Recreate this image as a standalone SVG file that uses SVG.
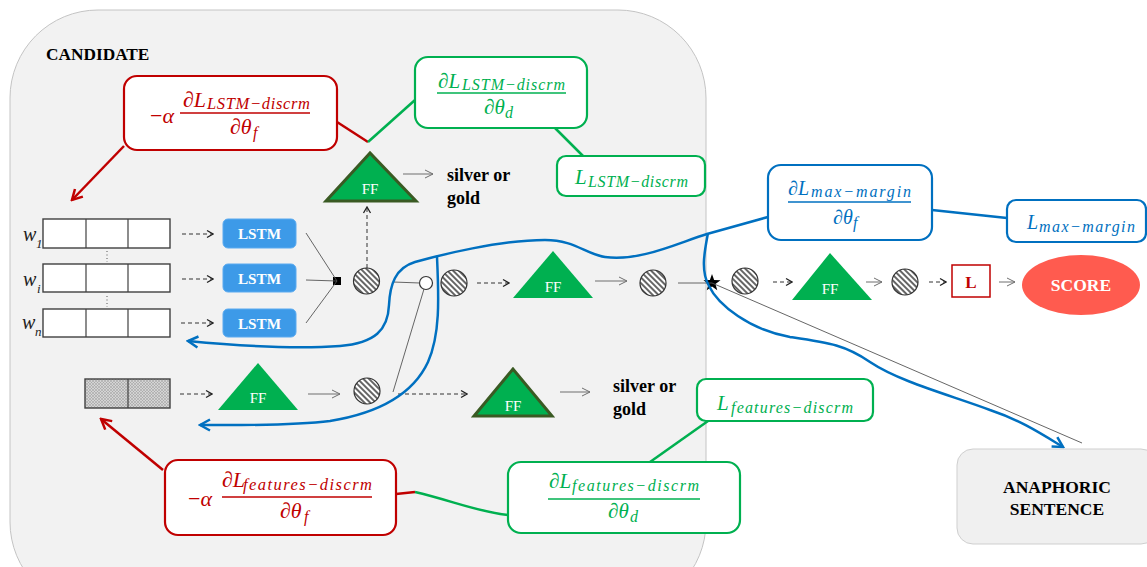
<svg xmlns="http://www.w3.org/2000/svg" width="1147" height="567" viewBox="0 0 1147 567" font-family="'Liberation Serif', 'DejaVu Serif', serif">
  <defs>
    <style>
      text{font-family:'Liberation Serif','DejaVu Serif',serif}
      .math{font-style:italic}
      .up{font-style:normal}
      .red{fill:#c00000}
      .grn{fill:#00b050}
      .blu{fill:#0070c0}
      .bold{font-weight:bold;fill:#000}
      .ff{fill:#fff;font-size:15px;text-anchor:middle}
      .wlab{font-style:italic;fill:#222}
      .box-r{fill:#fff;stroke:#c00000;stroke-width:2.2}
      .box-g{fill:#fff;stroke:#00b050;stroke-width:2.2}
      .box-b{fill:#fff;stroke:#0070c0;stroke-width:2.2}
      .vec{fill:#fff;stroke:#404040;stroke-width:1.4}
      .lstm{fill:#3d9ae8;stroke:#5aaaf0;stroke-width:1}
      .hc{fill:url(#hatch);stroke:#333;stroke-width:1.2}
      .tri{fill:#00b050}
      .trib{fill:#00b050;stroke:#3a5a23;stroke-width:3;stroke-linejoin:miter}
      .solid{fill:none;stroke:#6f6f6f;stroke-width:1;marker-end:url(#ah)}
      .dash{fill:none;stroke:#333;stroke-width:1;stroke-dasharray:4 3;marker-end:url(#dh)}
      .thin{fill:none;stroke:#555;stroke-width:0.9}
      .bl{fill:none;stroke:#0070c0;stroke-width:2.5}
      .rl{fill:none;stroke:#c00000;stroke-width:2.5}
      .gl{fill:none;stroke:#00b050;stroke-width:2.5}
    </style>
    <pattern id="hatch" width="4" height="4" patternUnits="userSpaceOnUse" patternTransform="rotate(-45)">
      <rect width="4" height="4" fill="#fff"/>
      <line x1="1" y1="0" x2="1" y2="4" stroke="#333" stroke-width="1.5"/>
    </pattern>
    <pattern id="xhatch" width="3" height="3" patternUnits="userSpaceOnUse">
      <rect width="3" height="3" fill="#d4d4d4"/>
      <path d="M0,0 L3,3 M3,0 L0,3" stroke="#9a9a9a" stroke-width="0.5"/>
    </pattern>
    <marker id="ah" viewBox="0 0 10 10" refX="9" refY="5" markerWidth="10" markerHeight="10" markerUnits="userSpaceOnUse" orient="auto">
      <path d="M1,1 L9,5 L1,9" fill="none" stroke="#6f6f6f" stroke-width="1"/>
    </marker>
    <marker id="dh" viewBox="0 0 8 10" refX="7" refY="5" markerWidth="8" markerHeight="10" markerUnits="userSpaceOnUse" orient="auto">
      <path d="M1,1.5 L7,5 L1,8.5" fill="none" stroke="#222" stroke-width="1.3"/>
    </marker>
    <marker id="bh" viewBox="0 0 14 14" refX="12" refY="7" markerWidth="14" markerHeight="14" markerUnits="userSpaceOnUse" orient="auto">
      <path d="M2,1.5 L12,7 L2,12.5" fill="none" stroke="#0070c0" stroke-width="2.5"/>
    </marker>
    <marker id="rh" viewBox="0 0 14 14" refX="12" refY="7" markerWidth="14" markerHeight="14" markerUnits="userSpaceOnUse" orient="auto">
      <path d="M2,1.5 L12,7 L2,12.5" fill="none" stroke="#c00000" stroke-width="2.5"/>
    </marker>
  </defs>

  <rect width="1147" height="567" fill="#fff"/>

  <!-- candidate frame -->
  <g id="candidate">
    <rect x="10" y="10" width="696" height="600" rx="88" fill="#f2f2f2" stroke="#c4c4c4" stroke-width="1"/>
    <text class="bold" x="46" y="60" font-size="17.3">CANDIDATE</text>
  </g>

  <!-- word vectors -->
  <g id="word-vectors">
    <rect class="vec" x="43" y="219" width="127" height="29"/>
    <line x1="86" y1="219" x2="86" y2="248" stroke="#404040" stroke-width="1.2"/>
    <line x1="128" y1="219" x2="128" y2="248" stroke="#404040" stroke-width="1.2"/>
    <rect class="vec" x="43" y="264" width="127" height="28"/>
    <line x1="86" y1="264" x2="86" y2="292" stroke="#404040" stroke-width="1.2"/>
    <line x1="128" y1="264" x2="128" y2="292" stroke="#404040" stroke-width="1.2"/>
    <rect class="vec" x="43" y="309" width="127" height="28"/>
    <line x1="86" y1="309" x2="86" y2="337" stroke="#404040" stroke-width="1.2"/>
    <line x1="128" y1="309" x2="128" y2="337" stroke="#404040" stroke-width="1.2"/>
    <line x1="107" y1="251" x2="107" y2="262" stroke="#555" stroke-width="1" stroke-dasharray="1 2.5"/>
    <line x1="107" y1="296" x2="107" y2="307" stroke="#555" stroke-width="1" stroke-dasharray="1 2.5"/>
    <text class="wlab" x="23" y="241" font-size="20">w</text>
    <text class="wlab up" x="36" y="248" font-size="13">1</text>
    <text class="wlab" x="23" y="286" font-size="20">w</text>
    <text class="wlab" x="37" y="293" font-size="13">i</text>
    <text class="wlab" x="22" y="329" font-size="20">w</text>
    <text class="wlab" x="35" y="336" font-size="13">n</text>
  </g>

  <!-- LSTM cells -->
  <g id="lstm">
    <rect class="lstm" x="223" y="219" width="73" height="29" rx="5"/>
    <rect class="lstm" x="223" y="264" width="73" height="28" rx="5"/>
    <rect class="lstm" x="223" y="309" width="73" height="28" rx="5"/>
    <text class="bold" x="259.5" y="239" font-size="15.2" style="fill:#fff" text-anchor="middle">LSTM</text>
    <text class="bold" x="259.5" y="284" font-size="15.2" style="fill:#fff" text-anchor="middle">LSTM</text>
    <text class="bold" x="259.5" y="329" font-size="15.2" style="fill:#fff" text-anchor="middle">LSTM</text>
  </g>

  <!-- pooling and hidden units -->
  <g id="units">
    <rect x="333" y="277" width="8" height="8" fill="#000"/>
    <circle class="hc" cx="366.5" cy="281" r="13"/>
    <circle cx="426" cy="283" r="6.5" fill="#fff" stroke="#333" stroke-width="1.2"/>
    <circle class="hc" cx="454" cy="283" r="13"/>
    <circle class="hc" cx="653" cy="283" r="13"/>
    <circle class="hc" cx="745" cy="281" r="13"/>
    <circle class="hc" cx="905" cy="282" r="13"/>
    <circle class="hc" cx="367" cy="391" r="13"/>
    <polygon points="712,274 714.12,280.09 720.56,280.22 715.42,284.11 717.29,290.28 712,286.6 706.71,290.28 708.58,284.11 703.44,280.22 709.88,280.09" fill="#000"/>
  </g>

  <!-- feed-forward layers -->
  <g id="ff-lstm-discr">
    <polygon class="trib" points="370,153 326,201 416,201"/>
    <text class="ff" x="370" y="194">FF</text>
  </g>
  <g id="ff-main">
    <polygon class="tri" points="553,251 513,298 593,298"/>
    <text class="ff" x="553" y="292">FF</text>
  </g>
  <g id="ff-score">
    <polygon class="tri" points="830,253 792,300 872,300"/>
    <text class="ff" x="830" y="294">FF</text>
  </g>
  <g id="ff-features">
    <polygon class="tri" points="258,363 218,410 298,410"/>
    <text class="ff" x="258" y="403">FF</text>
  </g>
  <g id="ff-features-discr">
    <polygon class="trib" points="513,369 474,416 552,416"/>
    <text class="ff" x="513" y="411">FF</text>
  </g>

  <!-- feature vector -->
  <g id="features">
    <rect x="85" y="379" width="85" height="29" fill="url(#xhatch)" stroke="#404040" stroke-width="1.4"/>
    <line x1="128" y1="379" x2="128" y2="408" stroke="#404040" stroke-width="1.2"/>
  </g>

  <!-- outputs -->
  <g id="silver-gold-top">
    <text class="bold" x="447" y="181" font-size="18">silver or</text>
    <text class="bold" x="447" y="204" font-size="18">gold</text>
  </g>
  <g id="silver-gold-bottom">
    <text class="bold" x="613" y="392" font-size="18">silver or</text>
    <text class="bold" x="613" y="415" font-size="18">gold</text>
  </g>
  <g id="loss">
    <rect x="952" y="265" width="38" height="32" fill="#fff" stroke="#c00000" stroke-width="1.5"/>
    <text class="bold" x="971" y="288" font-size="17" style="fill:#c00000" text-anchor="middle">L</text>
  </g>
  <g id="score">
    <ellipse cx="1081" cy="285" rx="59" ry="30" fill="#ff5b4f"/>
    <text class="bold" x="1081" y="291" font-size="17.5" style="fill:#fff" text-anchor="middle">SCORE</text>
  </g>
  <g id="anaphoric-sentence">
    <rect x="957" y="449" width="200" height="95" rx="16" fill="#f0f0f0" stroke="#cfcfcf" stroke-width="1"/>
    <text class="bold" x="1057" y="493" font-size="17.5" text-anchor="middle">ANAPHORIC</text>
    <text class="bold" x="1057" y="515" font-size="17.5" text-anchor="middle">SENTENCE</text>
  </g>

  <!-- gradient and loss labels -->
  <g id="grad-lstm-f">
    <rect class="box-r" x="124" y="76" width="213" height="74" rx="13"/>
    <text class="math red" x="150" y="123" font-size="22"><tspan class="up">−</tspan>α</text>
    <text class="math red" x="183" y="107" font-size="22">∂L</text>
    <text class="math red" x="207" y="109" font-size="16.5" textLength="103" lengthAdjust="spacing">LSTM−discrm</text>
    <line x1="180" y1="113" x2="310" y2="113" stroke="#c00000" stroke-width="1.5"/>
    <text class="math red" x="230" y="134" font-size="22">∂θ</text>
    <text class="math red" x="253" y="138" font-size="16">f</text>
  </g>
  <g id="grad-lstm-d">
    <rect class="box-g" x="415" y="57" width="172" height="71" rx="13"/>
    <text class="math grn" x="438" y="88" font-size="21">∂L</text>
    <text class="math grn" x="462" y="90" font-size="16" textLength="103" lengthAdjust="spacing">LSTM−discrm</text>
    <line x1="437" y1="93" x2="566" y2="93" stroke="#00b050" stroke-width="1.5"/>
    <text class="math grn" x="484" y="114" font-size="21">∂θ</text>
    <text class="math grn" x="505" y="118" font-size="16">d</text>
  </g>
  <g id="loss-lstm">
    <rect class="box-g" x="557" y="156" width="148" height="40" rx="9"/>
    <text class="math grn" x="575" y="184" font-size="21">L</text>
    <text class="math grn" x="588" y="187" font-size="16" textLength="100" lengthAdjust="spacing">LSTM−discrm</text>
  </g>
  <g id="grad-margin">
    <rect class="box-b" x="768" y="165" width="164" height="75" rx="13"/>
    <text class="math blu" x="788" y="195" font-size="20">∂L</text>
    <text class="math blu" x="811" y="197" font-size="16" textLength="100" lengthAdjust="spacing">max−margin</text>
    <line x1="788" y1="202" x2="911" y2="202" stroke="#0070c0" stroke-width="1.5"/>
    <text class="math blu" x="833" y="224" font-size="20">∂θ</text>
    <text class="math blu" x="853" y="228" font-size="16">f</text>
  </g>
  <g id="loss-margin">
    <rect class="box-b" x="1007" y="200" width="139" height="42" rx="9"/>
    <text class="math blu" x="1027" y="229" font-size="20">L</text>
    <text class="math blu" x="1039" y="232" font-size="16" textLength="96" lengthAdjust="spacing">max−margin</text>
  </g>
  <g id="grad-features-f">
    <rect class="box-r" x="165" y="460" width="231" height="75" rx="13"/>
    <text class="math red" x="188" y="506" font-size="22"><tspan class="up">−</tspan>α</text>
    <text class="math red" x="222" y="487" font-size="22">∂L</text>
    <text class="math red" x="243" y="490" font-size="16.5" textLength="129" lengthAdjust="spacing">features−discrm</text>
    <line x1="222" y1="497" x2="372" y2="497" stroke="#c00000" stroke-width="1.5"/>
    <text class="math red" x="280" y="518" font-size="22">∂θ</text>
    <text class="math red" x="304" y="522" font-size="16">f</text>
  </g>
  <g id="grad-features-d">
    <rect class="box-g" x="508" y="462" width="232" height="71" rx="13"/>
    <text class="math grn" x="549" y="488" font-size="21">∂L</text>
    <text class="math grn" x="572" y="491" font-size="16" textLength="127" lengthAdjust="spacing">features−discrm</text>
    <line x1="548" y1="499" x2="700" y2="499" stroke="#00b050" stroke-width="1.5"/>
    <text class="math grn" x="608" y="518" font-size="21">∂θ</text>
    <text class="math grn" x="630" y="522" font-size="16">d</text>
  </g>
  <g id="loss-features">
    <rect class="box-g" x="697" y="379" width="176" height="42" rx="9"/>
    <text class="math grn" x="717" y="410" font-size="21">L</text>
    <text class="math grn" x="731" y="413" font-size="16" textLength="122" lengthAdjust="spacing">features−discrm</text>
  </g>

  <!-- connectors -->
  <g id="connectors">
    <!-- inputs to LSTMs -->
    <path class="dash" d="M182,234 L213,234"/>
    <path class="dash" d="M182,279 L213,279"/>
    <path class="dash" d="M181,323 L213,323"/>
    <!-- LSTMs to pooling -->
    <path class="thin" d="M306,233 L337,281 M306,280 L337,281 M306,323 L337,281"/>
    <path class="dash" d="M367,268 L367,207"/>
    <path class="solid" d="M403,174 L433,174"/>
    <!-- main chain -->
    <path class="thin" d="M393,282 L420,283"/>
    <path class="dash" d="M477,283 L509,283"/>
    <path class="solid" d="M595,281 L627,281"/>
    <path class="thin" d="M678,283 L712,283"/>
    <path class="dash" d="M773,282 L792,282"/>
    <path class="solid" d="M866,282 L882,282"/>
    <path class="dash" d="M929,282 L946,282"/>
    <path class="solid" d="M999,282 L1015,282"/>
    <path class="thin" d="M712,283 L1082,443"/>
    <!-- features chain -->
    <path class="dash" d="M180,394 L212,394"/>
    <path class="solid" d="M308,394 L340,394"/>
    <path class="thin" d="M393,392 L424,289"/>
    <path class="dash" d="M398,394 L467,394"/>
    <path class="solid" d="M560,392 L590,392"/>
    <!-- label leaders -->
    <path class="rl" d="M337,122 L368,142"/>
    <path class="gl" d="M415,100 L368,142"/>
    <path class="gl" d="M555,128 L583,156"/>
    <path class="bl" d="M932,210 L1007,218"/>
    <path class="rl" d="M396,494 L415,492"/>
    <path class="gl" d="M415,492 C450,500 478,512 508,515"/>
    <path class="gl" d="M650,462 L708,421"/>
    <!-- gradient updates -->
    <path class="rl" d="M124,146 L72,200" marker-end="url(#rh)"/>
    <path class="rl" d="M163,470 L101,419" marker-end="url(#rh)"/>
    <!-- back-propagation paths -->
    <path class="bl" d="M768,217 L707,234 C680,242 640,262 605,257 C585,254 575,240 545,240 C500,240 440,255 415,262 C395,268 390,285 389,305 C388,330 375,343 340,346 C300,349 240,346 188,341" marker-end="url(#bh)"/>
    <path class="bl" d="M437,257 C439,300 440,335 428,362 C415,390 385,412 330,421 C290,426 240,425 200,425" marker-end="url(#bh)"/>
    <path class="bl" d="M708,233 C705,250 700,270 709,286 C718,305 750,330 790,337 C830,343 845,345 870,362 C900,382 950,395 990,410 C1020,420 1040,433 1063,447" marker-end="url(#bh)"/>
  </g>
</svg>
